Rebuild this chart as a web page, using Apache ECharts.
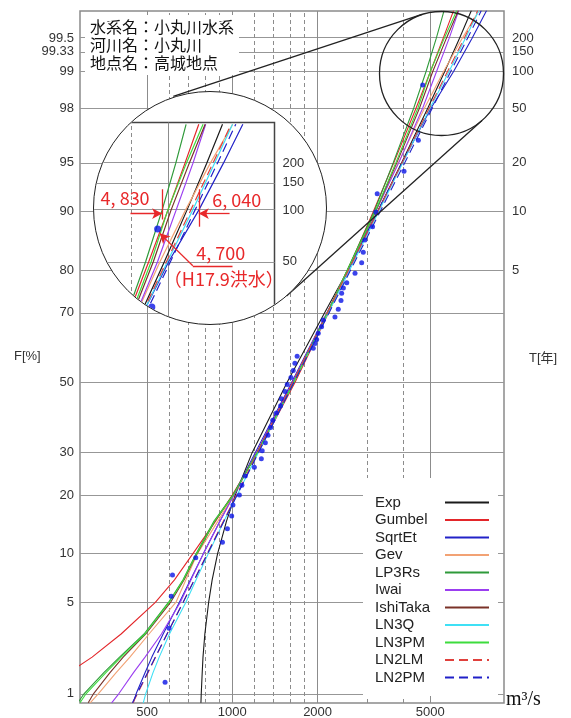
<!DOCTYPE html>
<html><head><meta charset="utf-8">
<script src="https://cdn.jsdelivr.net/npm/echarts@6/dist/echarts.min.js"></script>
<style>
html,body{margin:0;padding:0;background:#fff;width:571px;height:718px;overflow:hidden;}
#main{position:absolute;left:0;top:0;width:571px;height:718px;}
#insetWrap{position:absolute;left:93px;top:91px;width:234px;height:234px;box-sizing:border-box;border:1.5px solid #222;border-radius:50%;overflow:hidden;background:#fff;}
#inset{position:absolute;left:0;top:0;width:231px;height:231px;}
</style></head><body>
<div id="main"></div>
<div id="insetWrap"><div id="inset"></div></div>
<script>
// ---------------- data ----------------
const F_LEVELS = [0.83,1,1.5,2,3,5,7,10,15,20,30,50,70,80,90,95,98,99,99.5,99.73];
const Q_EXP      = [775,777,783,788,800,825,849,887,954,1024,1175,1560,2120,2560,3260,3960,4900,5620,6340,6980];
const Q_GUMBEL   = [160,190,265,320,405,535,625,725,873,1000,1229,1664,2188,2558,3150,3718,4454,5004,5553,6040];
const Q_SQRTET   = [447,458,492,520,570,650,712,790,905,1010,1205,1620,2160,2570,3260,3980,5030,6040,7020,7900];
const Q_GEV      = [315,337,389,435,508,632,686,752,890,1010,1220,1640,2165,2550,3210,3860,4770,5570,6480,7430];
const Q_LP3RS    = [285,300,352,400,488,595,670,745,862,1005,1225,1650,2175,2545,3170,3700,4370,4830,5250,5590];
const Q_IWAI     = [375,398,448,492,562,655,715,790,905,1015,1215,1630,2165,2560,3210,3870,4700,5260,5830,6300];
const Q_ISHITAKA = [310,324,370,412,495,605,676,750,868,1008,1222,1640,2170,2552,3205,3810,4580,5100,5700,6280];
const Q_LN3Q     = [485,495,525,552,600,685,745,822,935,1040,1235,1645,2185,2595,3290,4000,4990,5820,6650,7420];
const Q_LN3PM    = [290,305,358,405,492,598,672,748,866,1008,1225,1645,2170,2550,3200,3780,4520,5000,5600,6200];
const Q_LN2LM    = [446,463,504,536,589,670,734,815,931,1034,1228,1632,2167,2573,3266,3977,4962,5750,6585,7354];
const Q_LN2PM    = [444,461,502,535,588,670,735,817,935,1040,1237,1649,2199,2616,3330,4063,5084,5902,6768,7568];

const OBS_Q = [579,598,609,615,743,923,961,995,1005,1059,1081,1111,1196,1266,1275,1308,1337,1366,1389,1430,1481,1490,1535,1563,1611,1641,1663,1694,1931,1958,1985,2011,2066,2094,2303,2366,2419,2432,2466,2535,2711,2862,2899,2938,3126,3211,3247,4038,4537,4700];
const OBS_F = [1.25,3.3,5.5,7.5,9.5,11.6,13.7,15.9,18.0,20.0,22.1,24.2,26.3,28.4,30.5,32.6,34.7,36.8,38.9,41.0,43.1,45.2,47.3,49.4,51.5,53.6,55.7,57.8,60.1,61.5,62.6,64.4,66.2,68.0,68.8,70.8,73.0,74.8,76.0,77.2,79.3,81.5,83.5,85.7,87.8,89.9,92.1,94.3,96.5,98.7];

const F_TICKS = [99.5,99.33,99,98,95,90,80,70,50,30,20,10,5,1];
const F_TICK_LABELS = ['99.5','99.33','99','98','95','90','80','70','50','30','20','10','5','1'];
const T_TICK_F = [99.5,99.33,99,98,95,90,80];
const T_TICK_LABELS = ['200','150','100','50','20','10','5'];
const X_GRID = [500,600,700,800,900,1000,1200,1400,1600,1800,2000,3000,4000,5000];
const X_LABELS = ['500','','','','','1000','','','','','2000','','','5000'];

const RANGE_Q = [4830, 6040];          // range of T=100 estimates
const RANGE_LABELS = ['4, 830','6, 040'];
const MAX_LABELS = ['4, 700','（H17.9洪水）'];

const CURVES = [
  {name:'Exp', q:Q_EXP}, {name:'Gumbel', q:Q_GUMBEL}, {name:'SqrtEt', q:Q_SQRTET},
  {name:'Gev', q:Q_GEV}, {name:'LP3Rs', q:Q_LP3RS}, {name:'Iwai', q:Q_IWAI},
  {name:'IshiTaka', q:Q_ISHITAKA}, {name:'LN3Q', q:Q_LN3Q}, {name:'LN3PM', q:Q_LN3PM},
  {name:'LN2LM', q:Q_LN2LM}, {name:'LN2PM', q:Q_LN2PM}
];
const STYLE = {
  Exp:{color:'#1a1a1a', type:'solid'}, Gumbel:{color:'#e3262a', type:'solid'},
  SqrtEt:{color:'#2222c8', type:'solid'}, Gev:{color:'#f2a274', type:'solid'},
  LP3Rs:{color:'#2f9a3a', type:'solid'}, Iwai:{color:'#9b3ef0', type:'solid'},
  IshiTaka:{color:'#7a3228', type:'solid'}, LN3Q:{color:'#3fe0f5', type:'solid'},
  LN3PM:{color:'#3ddc3d', type:'solid'}, LN2LM:{color:'#e0403c', type:[9,5]},
  LN2PM:{color:'#2020c8', type:[9,5]}
};

// normal probability scale (inverse standard normal CDF)
function probit(p){
  const a=[-3.969683028665376e+01,2.209460984245205e+02,-2.759285104469687e+02,1.383577518672690e+02,-3.066479806614716e+01,2.506628277459239e+00];
  const b=[-5.447609879822406e+01,1.615858368580409e+02,-1.556989798598866e+02,6.680131188771972e+01,-1.328068155288572e+01];
  const c=[-7.784894002430293e-03,-3.223964580411365e-01,-2.400758277161838e+00,-2.549732539343734e+00,4.374664141464968e+00,2.938163982698783e+00];
  const d=[7.784695709041462e-03,3.224671290700398e-01,2.445134137142996e+00,3.754408661907416e+00];
  const pl=0.02425, ph=1-pl; let q,r;
  if(p<pl){q=Math.sqrt(-2*Math.log(p));return (((((c[0]*q+c[1])*q+c[2])*q+c[3])*q+c[4])*q+c[5])/((((d[0]*q+d[1])*q+d[2])*q+d[3])*q+1);}
  if(p<=ph){q=p-0.5;r=q*q;return (((((a[0]*r+a[1])*r+a[2])*r+a[3])*r+a[4])*r+a[5])*q/(((((b[0]*r+b[1])*r+b[2])*r+b[3])*r+b[4])*r+1);}
  q=Math.sqrt(-2*Math.log(1-p));return -(((((c[0]*q+c[1])*q+c[2])*q+c[3])*q+c[4])*q+c[5])/((((d[0]*q+d[1])*q+d[2])*q+d[3])*q+1);
}
const zF = f => probit(f/100);

function curveSeries(width){
  return CURVES.map(c=>({
    type:'line', name:c.name, silent:true, symbol:'none', showSymbol:false, z:2,
    data:c.q.map((q,i)=>[q, zF(F_LEVELS[i])]),
    lineStyle:{color:STYLE[c.name].color, width:width, type:STYLE[c.name].type},
    itemStyle:{color:STYLE[c.name].color}
  }));
}
function obsSeries(size){
  return {type:'scatter', name:'obs', silent:true, z:3, symbolSize:size,
    itemStyle:{color:'#0a14e6'}, data:OBS_Q.map((q,i)=>[q, zF(OBS_F[i])])};
}
function gridLineData(fTicks, xGrid, xLab){
  const arr=[];
  fTicks.forEach(f=>arr.push({yAxis:zF(f), lineStyle:{color:'#979797', width:1, type:'solid'}}));
  xGrid.forEach((x,i)=>arr.push({xAxis:x, lineStyle:{color:'#8c8c8c', width:1, type:xLab[i]?'solid':[4,3]}}));
  return arr;
}
const AX_HIDE = {axisLine:{show:false}, axisTick:{show:false}, axisLabel:{show:false}, splitLine:{show:false}};

// ---------------- main chart ----------------
const mainChart = echarts.init(document.getElementById('main'));
mainChart.setOption({
  animation:false,
  title:{text:'水系名：小丸川水系\n河川名：小丸川\n地点名：高城地点', left:85, top:15,
    padding:[3,5,3,5], backgroundColor:'#fff', z:6,
    textStyle:{fontSize:16, lineHeight:18, fontWeight:'normal', color:'#111', fontFamily:'"Noto Sans CJK JP"'}},
  grid:{left:80, right:67, top:11, bottom:15, show:true, borderColor:'#8a8a8a', borderWidth:1.5,
    backgroundColor:'rgba(0,0,0,0)', outerBoundsMode:'none'},
  xAxis:Object.assign({type:'log', logBase:10, min:290, max:9100}, AX_HIDE),
  yAxis:Object.assign({type:'value', min:-2.397, max:2.779}, AX_HIDE),
  legend:{orient:'vertical', left:363, top:478, padding:[17,8,11,12], backgroundColor:'#fff',
    align:'right', itemWidth:44, itemHeight:10, itemGap:2.5, selectedMode:false, z:4,
    itemStyle:{opacity:0, color:'rgba(0,0,0,0)', borderWidth:0},
    data:CURVES.map(c=>c.name),
    formatter:n=>'{a|'+n+'}',
    textStyle:{rich:{a:{width:65, align:'left', fontSize:15, lineHeight:15.4, color:'#222', fontFamily:'"Liberation Sans"'}}}},
  series:[
    {type:'line', name:'_grid', data:[], silent:true,
      markLine:{silent:true, symbol:['none','none'], label:{show:false}, z:1, animation:false,
        data:gridLineData(F_TICKS, X_GRID, X_LABELS)}},
    ...curveSeries(1.1),
    obsSeries(5)
  ]
});

const g = [];
const P = (x,y)=>mainChart.convertToPixel({gridIndex:0},[x,y]);
const left = P(290,0)[0], right = P(9100,0)[0], bottom = P(1000,-2.397)[1];
F_TICKS.forEach((f,i)=>{ const p=P(1000,zF(f));
  g.push({type:'text', x:left-6, y:p[1], z:20, style:{text:F_TICK_LABELS[i], fill:'#333', fontSize:13, fontFamily:'"Liberation Sans"', align:'right', verticalAlign:'middle'}});});
T_TICK_F.forEach((f,i)=>{ const p=P(1000,zF(f));
  g.push({type:'text', x:right+8, y:p[1], z:20, style:{text:T_TICK_LABELS[i], fill:'#333', fontSize:13, fontFamily:'"Liberation Sans"', align:'left', verticalAlign:'middle'}});});
X_GRID.forEach((x,i)=>{ if(!X_LABELS[i]) return; const p=P(x,0);
  g.push({type:'text', x:p[0], y:bottom+9, z:20, style:{text:X_LABELS[i], fill:'#333', fontSize:13, fontFamily:'"Liberation Sans"', align:'center', verticalAlign:'middle'}});});
g.push({type:'text', x:14, y:356, z:20, style:{text:'F[%]', fill:'#333', fontSize:13, fontFamily:'"Liberation Sans","Noto Sans CJK JP"', align:'left', verticalAlign:'middle'}});
g.push({type:'text', x:529, y:358, z:20, style:{text:'T[年]', fill:'#333', fontSize:13, fontFamily:'"Liberation Sans","Noto Sans CJK JP"', align:'left', verticalAlign:'middle'}});
g.push({type:'text', x:506, y:700, z:20, style:{text:'m³/s', fill:'#111', fontSize:20, fontFamily:'"Liberation Serif"', align:'left', verticalAlign:'middle'}});
g.push({type:'circle', z:15, shape:{cx:441.5, cy:73.5, r:62}, style:{fill:'rgba(0,0,0,0)', stroke:'#222', lineWidth:1.3}});
g.push({type:'line', z:15, shape:{x1:173.3, y1:96.4, x2:422, y2:14.4}, style:{stroke:'#222', lineWidth:1.3}});
g.push({type:'line', z:15, shape:{x1:286.5, y1:296, x2:482, y2:120.4}, style:{stroke:'#222', lineWidth:1.3}});
mainChart.setOption({graphic:g});

// ---------------- magnified inset ----------------
const inset = echarts.init(document.getElementById('inset'));
const RED = '#e8282a';
const zArrow = zF(98.95), zLead = zF(97.886);
inset.setOption({
  animation:false,
  grid:{left:-3, right:50.5, top:30.5, bottom:-3, show:true, borderColor:'#444', borderWidth:1.5,
    backgroundColor:'rgba(0,0,0,0)', outerBoundsMode:'none'},
  xAxis:Object.assign({type:'log', logBase:10, min:3131, max:9583}, AX_HIDE),
  yAxis:Object.assign({type:'value', min:1.711, max:2.7917}, AX_HIDE),
  series:[
    {type:'line', name:'_grid', data:[], silent:true,
      markLine:{silent:true, symbol:['none','none'], label:{show:false}, z:1, animation:false,
        data:gridLineData(F_TICKS, X_GRID, X_LABELS)}},
    ...curveSeries(1.2),
    obsSeries(7),
    {type:'line', name:'_annot', data:[], silent:true,
      markLine:{silent:true, symbol:['none','none'], symbolSize:[8,10], label:{show:false}, z:6, animation:false,
        lineStyle:{color:RED, width:1.3, type:'solid'},
        data:[
          [{coord:[RANGE_Q[0], zF(99.26)]},{coord:[RANGE_Q[0], zF(98.86)]}],
          [{coord:[RANGE_Q[1], zF(99.26)]},{coord:[RANGE_Q[1], zF(98.74)]}],
          [{coord:[3983, zArrow]},{coord:[RANGE_Q[0], zArrow], symbol:'arrow'}],
          [{coord:[7287, zArrow]},{coord:[RANGE_Q[1], zArrow], symbol:'arrow'}],
          [{coord:[5824, zLead]},{coord:[4760, zF(98.62)], symbol:'arrow'}],
          [{coord:[5824, zLead]},{coord:[7419, zLead]}]
        ]}}
  ]
});
const gi = [];
const PI = (x,y)=>inset.convertToPixel({gridIndex:0},[x,y]);
const iRight = PI(9583,0)[0];
T_TICK_F.forEach((f,i)=>{ const p=PI(5000,zF(f));
  if(p[1] < 0 || p[1] > 231) return;
  gi.push({type:'text', x:iRight+8, y:p[1], z:20, style:{text:T_TICK_LABELS[i], fill:'#333', fontSize:13, fontFamily:'"Liberation Sans"', align:'left', verticalAlign:'middle'}});});
const a0 = PI(RANGE_Q[0], zArrow), a1 = PI(RANGE_Q[1], zArrow), lead = PI(6500, zLead);
const redFont = {fill:RED, fontSize:18, fontFamily:'"Noto Sans CJK JP"', align:'center', verticalAlign:'middle'};
gi.push({type:'text', x:a0[0]-37, y:a0[1]-15, z:20, style:Object.assign({text:RANGE_LABELS[0]}, redFont)});
gi.push({type:'text', x:a1[0]+38, y:a1[1]-13, z:20, style:Object.assign({text:RANGE_LABELS[1]}, redFont)});
gi.push({type:'text', x:lead[0]+10, y:lead[1]-13, z:20, style:Object.assign({text:MAX_LABELS[0]}, redFont)});
gi.push({type:'text', x:lead[0]+13, y:lead[1]+13, z:20, style:Object.assign({text:MAX_LABELS[1]}, redFont)});
inset.setOption({graphic:gi});
</script>
</body></html>
